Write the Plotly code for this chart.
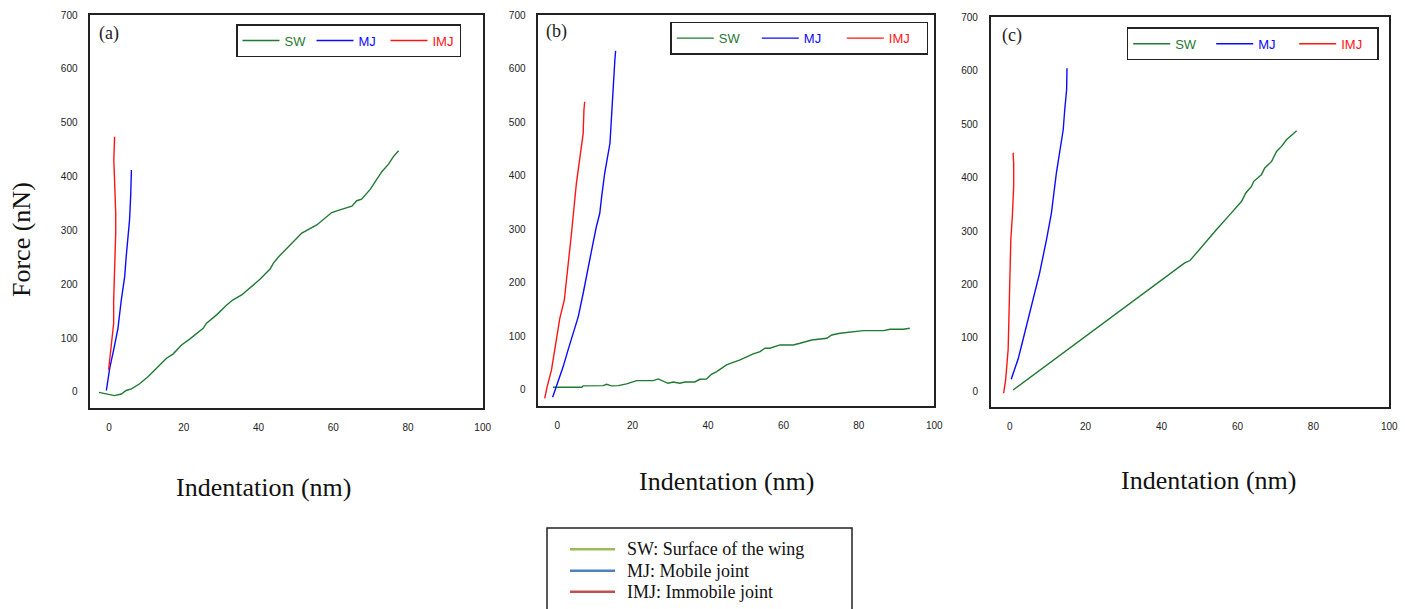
import plotly.graph_objects as go

W, H = 1405, 609

# ---------------- data ----------------
a_sw_x = [-2.7, 1.5, 3.3, 4.6, 6.0, 8.2, 10.5, 11.8, 15.4, 17.2, 19.4, 21.6, 25.2, 26.1, 28.8, 31.5, 33.2, 35.5,
          38.2, 40.4, 43.1, 44.0, 45.4, 49.4, 51.6, 55.6, 58.3, 59.6, 61.8, 65.0, 66.3, 67.6, 69.9, 72.1, 73.0,
          74.8, 76.1, 77.5]
a_sw_y = [-1, -7, -4, 2.5, 5.6, 15, 28.5, 38, 62.5, 70.6, 87, 98, 118, 127.5, 143, 161.5, 171, 180,
          197, 209, 228, 239, 251, 279, 295, 310, 326, 333, 338, 345, 355, 358, 376, 400, 409,
          423, 437, 448]
a_mj_x = [-0.7, 0.2, 1.25, 2.4, 3.3, 4.2, 4.6, 5.1, 5.5, 5.8, 6.0]
a_mj_y = [2.5, 44, 78, 118, 171, 214, 251, 282, 319, 363, 412]
a_imj_x = [-0.1, 0.6, 1.25, 1.25, 1.5, 1.8, 1.8, 1.5, 1.3, 1.5]
a_imj_y = [41, 84, 127.5, 171, 220, 295, 332, 387, 431, 474]

b_sw_x = [-1.1, 6.5, 6.9, 12.2, 13.1, 14.4, 16.2, 18.4, 21.1, 25.5, 26.8, 29.4, 30.8, 32.5, 33.9, 36.5, 37.8,
          39.6, 40.9, 42.3, 44.9, 48.5, 52.0, 53.8, 55.1, 56.4, 59.1, 62.6, 64.4, 67.5, 71.5, 72.8, 75.0,
          78.5, 81.2, 86.5, 88.3, 91.8, 93.5]
b_sw_y = [5, 5, 7.5, 8.1, 10.6, 7.5, 8.1, 11.2, 17.4, 17.4, 20.5, 12.4, 14.9, 12.4, 14.9, 14.9, 19.9,
          20.5, 29.2, 34.2, 46.7, 56, 67.2, 71.6, 77.8, 77.8, 84, 84, 87.1, 93.3, 96.4, 102.6, 105.8,
          108.9, 110.8, 110.8, 113.3, 113.3, 115.1]
b_mj_x = [-1.2, -0.2, 0.9, 1.6, 2.9, 4.2, 5.6, 6.9, 8.2, 9.5, 10.4, 11.3, 11.8, 12.6, 14.0, 14.4, 14.9, 15.3, 15.5]
b_mj_y = [-13.7, 6.2, 31, 43.6, 74.7, 105.8, 136.9, 180.5, 230.2, 273.8, 304.9, 329.8, 360.9, 404.5, 460.5,
          516.5, 566.3, 616, 633]
b_imj_x = [-3.3, -2.65, -1.5, -0.6, -0.2, 0.7, 1.9, 2.5, 3.8, 5.1, 6.5, 6.9, 7.1, 7.3]
b_imj_y = [-15.6, 6.2, 37.3, 74.7, 99.6, 133.8, 168, 205.4, 292.5, 385.8, 466.7, 479, 522.7, 538]

c_sw_x = [0.9, 44.8, 46.1, 47.5, 51.0, 54.5, 58.0, 61.1, 62.2, 63.7, 64.3, 66.3, 67.2, 69.0, 70.3, 71.6,
          72.9, 74.2, 75.6]
c_sw_y = [2.5, 234, 240.4, 244.7, 274.6, 302.7, 330.7, 355.6, 371.2, 383.6, 393, 405.4, 417.9, 430.3, 449,
          458.4, 470.8, 478.3, 487.6]
c_mj_x = [0.4, 1.05, 2.2, 3.1, 4.8, 6.2, 7.9, 9.7, 11.0, 12.3, 13.2, 14.1, 14.5, 15.0, 15.1]
c_mj_y = [22.4, 36, 59.8, 84.7, 134.5, 171.9, 221.7, 284, 333.8, 408.5, 445.9, 489.5, 526.9, 564.3, 604.7]
c_imj_x = [-1.6, -1.05, -0.4, -0.2, 0.0, 0.3, 0.7, 1.05, 1.05, 0.9, 1.1]
c_imj_y = [-3.7, 22.4, 78.5, 134.5, 215.5, 284, 327.6, 383.6, 427.2, 444.7, 446]

panels = [
    ("(a)", (a_sw_x, a_sw_y), (a_mj_x, a_mj_y), (a_imj_x, a_imj_y)),
    ("(b)", (b_sw_x, b_sw_y), (b_mj_x, b_mj_y), (b_imj_x, b_imj_y)),
    ("(c)", (c_sw_x, c_sw_y), (c_mj_x, c_mj_y), (c_imj_x, c_imj_y)),
]
series_names = ["SW", "MJ", "IMJ"]
series_colors = ["#1f7a32", "#0a0aff", "#ff1414"]

key_names = ["SW: Surface of the wing", "MJ: Mobile joint", "IMJ: Immobile joint"]
key_colors = ["#9bbb59", "#4f81bd", "#c0504d"]

x_range = [-5, 100]
y_range = [-30, 700]
x_ticks = [0, 20, 40, 60, 80, 100]
y_ticks = [0, 100, 200, 300, 400, 500, 600, 700]

# ---------------- layout geometry (pixels) ----------------
px_x = [(90.3, 482.7), (538.3, 934.3), (990.7, 1389.3)]
px_y = [(15, 408), (15, 406), (17.3, 407.3)]
leg_pos = [(236, 24, 22), (670.3, 21.7, 33), (1126.7, 27.3, 31)]
label_pos = [(97, 33), (544, 31), (1000, 35)]
xtitle_pos = [(263, 487), (726, 481), (1208, 480)]
key_rows_y = [549.3, 570.7, 591.7]

fig = go.Figure()
TICKFONT = dict(family="Liberation Sans, Arial", size=10, color="#222")

for i, (lab, *series) in enumerate(panels):
    n = "" if i == 0 else str(i + 1)
    leg = "legend" if i == 0 else "legend" + str(i + 1)
    for (xs, ys), nm, col in zip(series, series_names, series_colors):
        fig.add_trace(go.Scatter(
            x=xs, y=ys, mode="lines", line=dict(color=col, width=1.4),
            name=f"<span style='color:{col}'>{nm}</span>",
            xaxis="x" + n, yaxis="y" + n, legend=leg, showlegend=True))
    x0, x1 = px_x[i]
    y0, y1 = px_y[i]
    axline = dict(showline=True, linecolor="#222", linewidth=1.5, mirror=True,
                  showgrid=False, zeroline=False, ticks="outside",
                  tickcolor="rgba(0,0,0,0)", ticklen=9, tickfont=TICKFONT)
    fig.update_layout(**{
        "xaxis" + n: dict(domain=[x0 / W, x1 / W], range=x_range, tickvals=x_ticks,
                          anchor="y" + n, **axline),
        "yaxis" + n: dict(domain=[1 - y1 / H, 1 - y0 / H], range=y_range, tickvals=y_ticks,
                          anchor="x" + n, **axline),
    })
    lx, ly, ew = leg_pos[i]
    fig.update_layout(**{leg: dict(
        x=lx / W, y=1 - ly / H, xanchor="left", yanchor="top", orientation="h",
        bordercolor="#222", borderwidth=1.5, bgcolor="white",
        font=dict(family="Liberation Sans, Arial", size=13),
        entrywidth=ew, entrywidthmode="pixels", itemwidth=37, tracegroupgap=0)})
    fig.add_annotation(x=label_pos[i][0] / W, y=1 - label_pos[i][1] / H, xref="paper", yref="paper",
                       text=lab, showarrow=False, xanchor="left", yanchor="middle",
                       font=dict(family="Liberation Serif, Times New Roman", size=18, color="#222"))
    fig.add_annotation(x=xtitle_pos[i][0] / W, y=1 - xtitle_pos[i][1] / H, xref="paper", yref="paper",
                       text="Indentation (nm)", showarrow=False, xanchor="center", yanchor="middle",
                       font=dict(family="Liberation Serif, Times New Roman", size=26, color="#111"))

fig.add_annotation(x=22 / W, y=1 - 240 / H, xref="paper", yref="paper", text="Force (nN)",
                   textangle=-90, showarrow=False, xanchor="center", yanchor="middle",
                   font=dict(family="Liberation Serif, Times New Roman", size=26, color="#111"))

# bottom key (explanatory box)
fig.add_shape(type="rect", xref="paper", yref="paper", x0=547 / W, x1=852 / W,
              y0=1 - 620 / H, y1=1 - 528 / H, line=dict(color="#222", width=1.5))
for nm, col, ry in zip(key_names, key_colors, key_rows_y):
    fig.add_shape(type="line", xref="paper", yref="paper", x0=570 / W, x1=615 / W,
                  y0=1 - ry / H, y1=1 - ry / H, line=dict(color=col, width=2.5))
    fig.add_annotation(x=625 / W, y=1 - ry / H, xref="paper", yref="paper", text=nm,
                       showarrow=False, xanchor="left", yanchor="middle",
                       font=dict(family="Liberation Serif, Times New Roman", size=18, color="#111"))

fig.update_layout(width=W, height=H, margin=dict(l=0, r=0, t=0, b=0, autoexpand=False),
                  paper_bgcolor="white", plot_bgcolor="white")

fig.write_html("out.html", config={"displayModeBar": False},
               post_script="document.body.style.margin='0';document.body.style.padding='0';"
                           "document.body.style.overflow='hidden';")
